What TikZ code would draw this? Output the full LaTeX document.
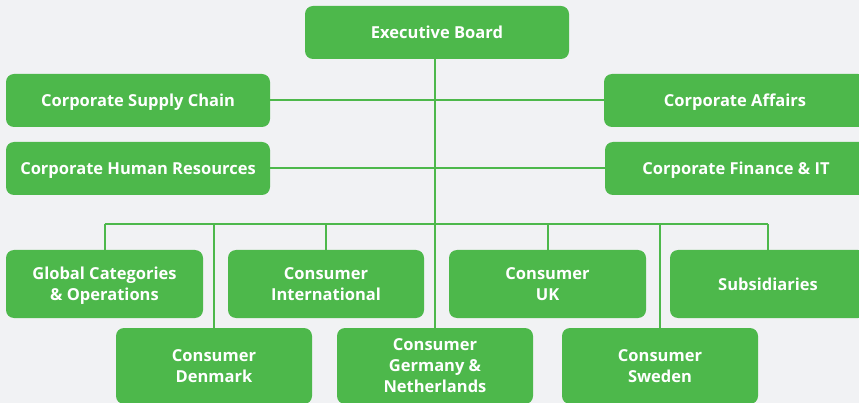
\documentclass[tikz,border=0pt]{standalone}
\usepackage{fontspec}
\setmainfont{Open Sans}
\definecolor{bg}{HTML}{F1F2F4}
\definecolor{grn}{HTML}{4DB84B}
\begin{document}
\begin{tikzpicture}[x=1pt,y=-1pt,
  box/.style={fill=grn, rounded corners=8pt, text=white, align=center, inner sep=0pt,
    text depth=0pt, font=\fontsize{16.5}{21}\selectfont\bfseries},
  wide/.style={box, minimum width=264pt, minimum height=53pt},
  mid/.style={box, minimum width=196pt, minimum height=68pt},
  low/.style={box, minimum width=196pt, minimum height=76pt},
  link/.style={draw=grn, line width=2pt}]
\fill[bg] (0,0) rectangle (859,403);
\useasboundingbox (0,0) rectangle (859,403);
\clip (0,0) rectangle (859,403);
\node[wide] (eb) at (437,32.5) {Executive Board};
\node[wide] (csc) at (138,100.5) {Corporate Supply Chain};
\node[wide, minimum width=262pt] (ca) at (735,100.5) {Corporate Affairs};
\node[wide] (chr) at (138,168.5) {Corporate Human Resources};
\node[wide, minimum width=262pt] (cfi) at (736,168.5) {Corporate Finance \& IT};
\node[mid, minimum width=197pt] (gco) at (104.5,284) {Global Categories\\\& Operations};
\node[mid] (ci) at (326,284) {Consumer\\International};
\node[mid, minimum width=197pt] (uk) at (547.5,284) {Consumer\\UK};
\node[mid] (sub) at (768,284) {Subsidiaries};
\node[low] (dk) at (214,366) {Consumer\\Denmark};
\node[low] (ge) at (435,366) {Consumer\\Germany \&\\Netherlands};
\node[low] (se) at (660,366) {Consumer\\Sweden};
\coordinate (bus) at (435,224);
\draw[link] (eb.south -| ge.north) -- (ge.north);
\draw[link] (csc.east) -- (ca.west);
\draw[link] (chr.east) -- (cfi.west);
\draw[link] (gco.north |- bus) -- (sub.north |- bus);
\draw[link] (gco.north |- bus) -- (gco.north);
\draw[link] (dk.north |- bus) -- (dk.north);
\draw[link] (ci.north |- bus) -- (ci.north);
\draw[link] (uk.north |- bus) -- (uk.north);
\draw[link] (se.north |- bus) -- (se.north);
\draw[link] (sub.north |- bus) -- (sub.north);
\end{tikzpicture}
\end{document}
